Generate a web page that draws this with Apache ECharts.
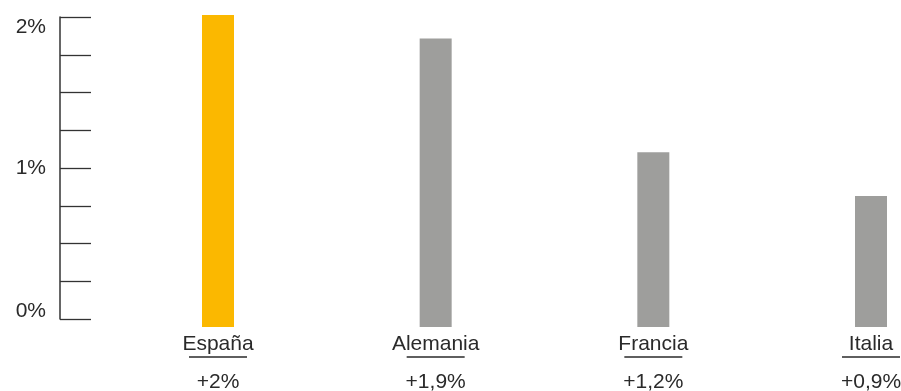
<!DOCTYPE html>
<html>
<head>
<meta charset="utf-8">
<script src="https://cdn.jsdelivr.net/npm/echarts@6/dist/echarts.min.js"></script>
<style>
  html, body { margin: 0; padding: 0; background: #fff; }
  #chart { width: 901px; height: 391px; }
</style>
</head>
<body>
<div id="chart"></div>
<script>
// Crecimiento: España frente a las grandes economías del euro
const paises = ['España', 'Alemania', 'Francia', 'Italia'];
const crecimiento = [2.0, 1.85, 1.12, 0.84];
const etiquetas = ['+2%', '+1,9%', '+1,2%', '+0,9%'];
const colores = ['#fbb800', '#9e9e9c', '#9e9e9c', '#9e9e9c'];

const FONT = '"Liberation Sans", Arial, sans-serif';
const INK = '#2a2a2a';
const txt = { fontFamily: FONT, fontSize: 21, color: INK };

const chart = echarts.init(document.getElementById('chart'), null, { renderer: 'canvas' });

chart.setOption({
  animation: false,
  grid: [
    // eje de la izquierda (solo regla)
    { left: 60, top: 17, bottom: 72, width: 32, outerBoundsMode: 'none' },
    // barras
    { left: 218, right: 30, top: 15, bottom: 64, outerBoundsMode: 'none' },
  ],
  xAxis: [
    { gridIndex: 0, type: 'value', show: false },
    {
      gridIndex: 1, type: 'category', data: paises, boundaryGap: false,
      axisLine: { show: false }, axisTick: { show: false },
      axisLabel: {
        interval: 0, margin: 5,
        formatter: (v, i) => `{n|${v}}\n{u|}\n{v|${etiquetas[i]}}`,
        rich: {
          n: { ...txt, lineHeight: 24 },
          u: { width: 58, height: 1.3, backgroundColor: INK, lineHeight: 2 },
          v: { ...txt, lineHeight: 48 },
        },
      },
    },
  ],
  yAxis: [
    {
      gridIndex: 0, type: 'value', min: 0, max: 2, interval: 0.25,
      axisLine: { show: true, lineStyle: { color: '#333', width: 1.5 } },
      axisTick: { show: true, inside: true, length: 31, lineStyle: { color: '#333', width: 1.3 } },
      splitLine: { show: false },
      axisLabel: {
        margin: 14,
        verticalAlignMinLabel: 'bottom', verticalAlignMaxLabel: 'top',
        formatter: v => {
          if (Math.abs(v - Math.round(v)) > 1e-6) return '';
          const k = v === 0 ? 'b' : v === 2 ? 't' : 'm';
          return `{${k}|${Math.round(v)}%}`;
        },
        rich: {
          t: { ...txt, lineHeight: 20 },
          m: { ...txt, lineHeight: 24 },
          b: { ...txt, lineHeight: 16 },
        },
      },
    },
    { gridIndex: 1, type: 'value', min: 0, max: 2, show: false },
  ],
  series: [{
    type: 'bar', xAxisIndex: 1, yAxisIndex: 1, barWidth: 32,
    data: crecimiento.map((v, i) => ({ value: v, itemStyle: { color: colores[i] } })),
  }],
});
</script>
</body>
</html>
